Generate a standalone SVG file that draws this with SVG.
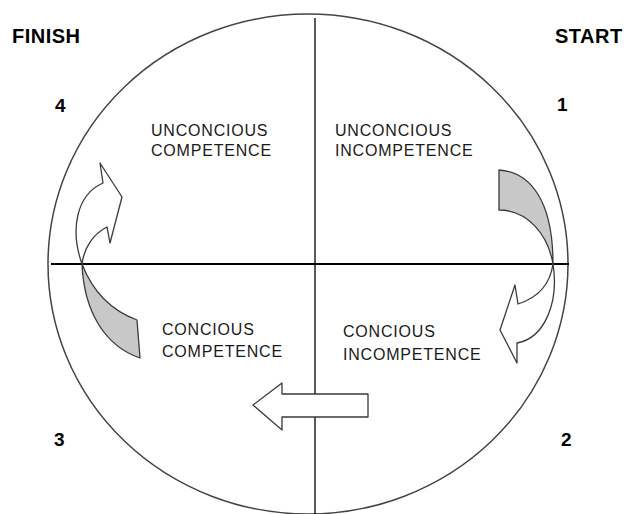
<svg xmlns="http://www.w3.org/2000/svg" width="631" height="514" viewBox="0 0 631 514">
<style>
.lbl{font-family:"Liberation Sans",Arial,sans-serif;font-size:16px;letter-spacing:0.8px;fill:#1a1a1a}
.big{font-family:"Liberation Sans",Arial,sans-serif;font-weight:bold;font-size:20px;letter-spacing:0.5px;fill:#000}
.num{font-family:"Liberation Sans",Arial,sans-serif;font-weight:bold;font-size:19px;fill:#000}
.gray{fill:#c8c8c8;stroke:#3a3a3a;stroke-width:1.3;stroke-linejoin:round}
.white{fill:#fff;stroke:#3a3a3a;stroke-width:1.3;stroke-linejoin:round}
</style>
<rect width="631" height="514" fill="#fff"/>
<g id="frame">
<ellipse cx="308" cy="264" rx="260" ry="250" fill="none" stroke="#444" stroke-width="1.5"/>
<line x1="315" y1="18" x2="315" y2="514" stroke="#000" stroke-width="1.3"/>
<line x1="51" y1="264" x2="569" y2="264" stroke="#000" stroke-width="2"/>
</g>
<g id="connectors">
<path class="gray" d="M499,170 C530,172 553,200 553,264 C548,235 528,210 499,210 Z"/>
<path class="white" d="M553,264 C559,302 545,338 517,343 L517,363 L500,330 L515,285 L518,304 C537,298 550,285 553,264 Z"/>
<path class="white" d="M253,405 L282,383 L282,394 L368,394 L368,417 L282,417 L282,430 Z"/>
<path class="gray" d="M82,264 C84,312 105,346 140,358 L137,320 C110,310 92,290 82,264 Z"/>
<path class="white" d="M82,264 C70,230 76,195 103,183 L100,163 L122,197 L110,243 L107,227 C93,234 84,248 82,264 Z"/>
</g>
<g id="finish"><text class="big" x="12" y="43">FINISH</text></g>
<g id="start"><text class="big" x="555" y="43">START</text></g>
<g id="n4"><text class="num" x="55" y="112">4</text></g>
<g id="n1"><text class="num" x="557" y="111">1</text></g>
<g id="n3"><text class="num" x="54" y="446">3</text></g>
<g id="n2"><text class="num" x="561" y="446">2</text></g>
<g id="q-unconscious-competence">
<text class="lbl" x="151" y="136">UNCONCIOUS</text>
<text class="lbl" x="151" y="156">COMPETENCE</text>
</g>
<g id="q-unconscious-incompetence">
<text class="lbl" x="335" y="136">UNCONCIOUS</text>
<text class="lbl" x="335" y="156">INCOMPETENCE</text>
</g>
<g id="q-conscious-competence">
<text class="lbl" x="162" y="335">CONCIOUS</text>
<text class="lbl" x="162" y="357">COMPETENCE</text>
</g>
<g id="q-conscious-incompetence">
<text class="lbl" x="343" y="337">CONCIOUS</text>
<text class="lbl" x="343" y="360">INCOMPETENCE</text>
</g>
</svg>
